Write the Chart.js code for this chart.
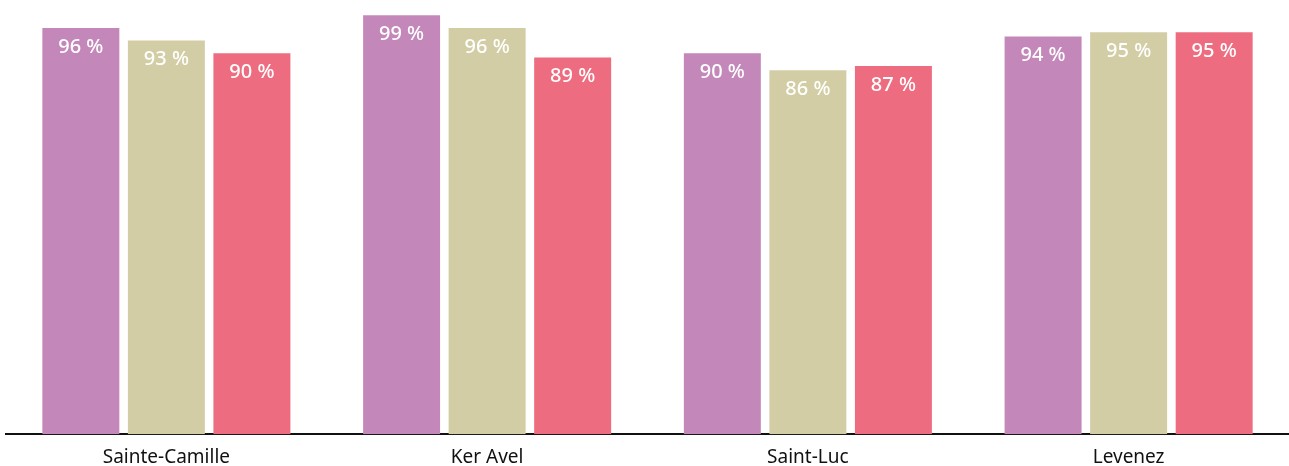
<!DOCTYPE html>
<html>
<head>
<meta charset="utf-8">
<script src="https://cdn.jsdelivr.net/npm/chart.js@4"></script>
<style>
  html, body { margin: 0; padding: 0; background: #fff; }
  #wrap { width: 1289px; height: 466px; position: relative; }
</style>
</head>
<body>
<div id="wrap"><canvas id="chart"></canvas></div>
<script>
const categories = ['Sainte-Camille', 'Ker Avel', 'Saint-Luc', 'Levenez'];
const serieA = [96, 99, 90, 94];
const serieB = [93, 96, 86, 95];
const serieC = [90, 89, 87, 95];
const colors = ['#C487B9', '#D2CDA4', '#EE6C7F'];

// white "xx %" labels inside the top of each bar
const barLabels = {
  id: 'barLabels',
  afterDatasetsDraw(chart) {
    const ctx = chart.ctx;
    ctx.save();
    ctx.fillStyle = '#fff';
    ctx.font = '500 20px "Noto Sans", sans-serif';
    ctx.textAlign = 'center';
    ctx.textBaseline = 'middle';
    chart.data.datasets.forEach((ds, i) => {
      chart.getDatasetMeta(i).data.forEach((bar, j) => {
        ctx.fillText(ds.data[j] + ' %', bar.x, bar.y + 19);
      });
    });
    ctx.restore();
  }
};

new Chart(document.getElementById('chart'), {
  type: 'bar',
  data: {
    labels: categories,
    datasets: [
      { data: serieA, backgroundColor: colors[0] },
      { data: serieB, backgroundColor: colors[1] },
      { data: serieC, backgroundColor: colors[2] }
    ]
  },
  options: {
    responsive: true,
    maintainAspectRatio: false,
    animation: false,
    layout: { padding: { left: 6, right: 0, top: 11, bottom: -15 } },
    datasets: {
      bar: { categoryPercentage: 0.8, barPercentage: 0.9 }
    },
    plugins: {
      legend: { display: false },
      tooltip: { enabled: false }
    },
    scales: {
      x: {
        grid: { display: false, drawTicks: false },
        border: { display: true, color: '#111', width: 2 },
        ticks: {
          color: '#111',
          padding: 12,
          font: { family: '"Noto Sans", sans-serif', size: 19 }
        }
      },
      y: {
        display: false,
        min: 0,
        max: 100
      }
    }
  },
  plugins: [barLabels]
});
</script>
</body>
</html>
